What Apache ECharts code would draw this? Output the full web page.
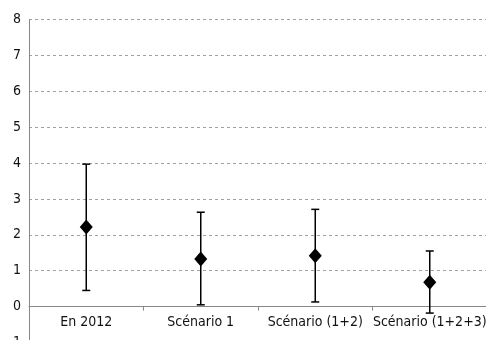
<!DOCTYPE html>
<html>
<head>
<meta charset="utf-8">
<script src="https://cdn.jsdelivr.net/npm/echarts@6/dist/echarts.min.js"></script>
<style>
html,body{margin:0;padding:0;background:#fff;}
#chart{width:486px;height:340px;}
</style>
</head>
<body>
<div id="chart"></div>
<script>
var categories = ['En 2012', 'Scénario 1', 'Scénario (1+2)', 'Scénario (1+2+3)'];
var means = [2.22, 1.33, 1.42, 0.68];
var lows = [0.45, 0.05, 0.13, -0.18];
var highs = [3.97, 2.63, 2.71, 1.55];
var yTicks = [-1, 0, 1, 2, 3, 4, 5, 6, 7, 8];

var FONT = '"Liberation Sans Narrow", "DejaVu Sans Condensed", sans-serif';
var chart = echarts.init(document.getElementById('chart'));

var errData = categories.map(function (c, i) { return [i, lows[i], highs[i]]; });
var gridTop = 19.5, gridBottom = -2.5, H = 340;
var plotH = H - gridTop - gridBottom;
var zeroOffset = -plotH * (0 - yTicks[0]) / (yTicks[yTicks.length - 1] - yTicks[0]);

chart.setOption({
  animation: false,
  grid: { left: 29, right: -1, top: gridTop, bottom: gridBottom, containLabel: false, outerBoundsMode: 'none' },
  xAxis: {
    type: 'category',
    data: categories,
    boundaryGap: true,
    offset: zeroOffset,
    axisLine: { onZero: false, lineStyle: { color: '#888', width: 1 } },
    axisTick: { show: true, alignWithLabel: false, length: 4, inside: false, lineStyle: { color: '#888' } },
    axisLabel: { color: '#111', fontFamily: FONT, fontSize: 14, margin: 9, interval: 0 },
    splitLine: { show: false }
  },
  yAxis: {
    type: 'value',
    min: yTicks[0],
    max: yTicks[yTicks.length - 1],
    interval: 1,
    axisLine: { show: true, lineStyle: { color: '#888', width: 1 } },
    axisTick: { show: false },
    axisLabel: { color: '#111', fontFamily: FONT, fontSize: 14, margin: 8 },
    splitLine: { show: true, lineStyle: { color: '#a0a0a0', type: [3, 3], width: 1 } }
  },
  series: [
    {
      type: 'custom',
      data: errData,
      renderItem: function (params, api) {
        var x = api.value(0);
        var lo = api.coord([x, api.value(1)]);
        var hi = api.coord([x, api.value(2)]);
        var w = 4;
        var st = { stroke: '#000', lineWidth: 1.5 };
        return {
          type: 'group',
          children: [
            { type: 'line', shape: { x1: lo[0], y1: lo[1], x2: hi[0], y2: hi[1] }, style: st },
            { type: 'line', shape: { x1: lo[0] - w, y1: lo[1], x2: lo[0] + w, y2: lo[1] }, style: st },
            { type: 'line', shape: { x1: hi[0] - w, y1: hi[1], x2: hi[0] + w, y2: hi[1] }, style: st }
          ]
        };
      },
      z: 2
    },
    {
      type: 'scatter',
      data: means,
      symbol: 'diamond',
      symbolSize: [13, 15],
      itemStyle: { color: '#000', opacity: 1 },
      z: 3
    }
  ]
});
</script>
</body>
</html>
